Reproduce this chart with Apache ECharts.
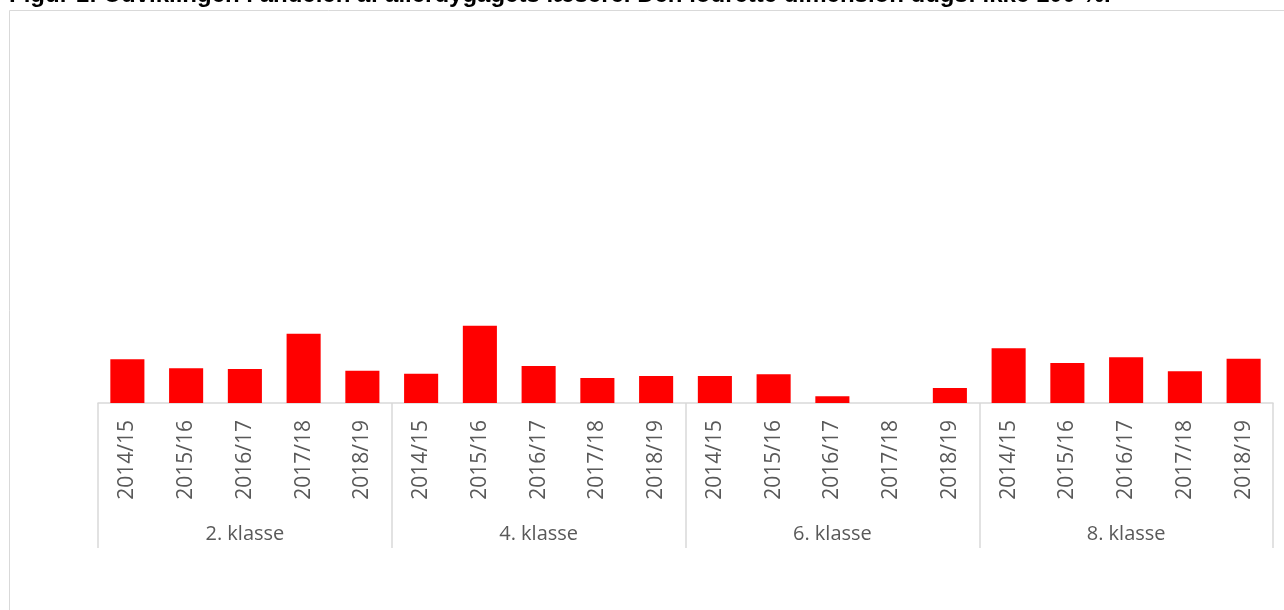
<!DOCTYPE html>
<html>
<head>
<meta charset="utf-8">
<script src="https://cdn.jsdelivr.net/npm/echarts@6/dist/echarts.min.js"></script>
<style>
  html, body { margin: 0; padding: 0; background: #fff; }
  #chart { width: 1284px; height: 610px; }
</style>
</head>
<body>
<div id="chart"></div>
<script>
var years = ['2014/15', '2015/16', '2016/17', '2017/18', '2018/19'];
var groups = ['2. klasse', '4. klasse', '6. klasse', '8. klasse'];
var klasse2 = [11.7, 9.3, 9.1, 18.5, 8.6];
var klasse4 = [7.8, 20.6, 9.9, 6.7, 7.2];
var klasse6 = [7.2, 7.7, 1.8, 0, 4.0];
var klasse8 = [14.6, 10.7, 12.2, 8.5, 11.8];
var title = 'Figur 1: Udviklingen i andelen af allerdygagets læsere. Den lodrette dimension dugs: ikke 100 %.';

var categories = [];
groups.forEach(function () {
  categories = categories.concat(years);
});
var values = [].concat(klasse2, klasse4, klasse6, klasse8);

var grey = '#d9d9d9';
var textGrey = '#595959';

var chart = echarts.init(document.getElementById('chart'));
var option = {
  animation: false,
  // rammen og den avskårne tittelen
  graphic: [{
    type: 'rect',
    shape: { x: 9.5, y: 10.5, width: 1300, height: 700 },
    style: { fill: 'none', stroke: grey, lineWidth: 1 }
  }, {
    type: 'text',
    x: 9,
    y: -5,
    style: {
      text: title,
      fontFamily: 'Liberation Sans',
      fontWeight: 'bold',
      fontSize: 24,
      fill: '#000',
      verticalAlign: 'middle'
    }
  }],
  grid: {
    left: 98,
    right: 11,
    top: 28,
    bottom: 207
  },
  xAxis: [{
    type: 'category',
    data: categories,
    axisLine: { show: true, lineStyle: { color: grey, width: 1.5 } },
    axisTick: { show: false },
    axisLabel: {
      rotate: 90,
      margin: 17,
      interval: 0,
      fontFamily: 'Open Sans',
      fontSize: 21,
      color: textGrey
    }
  }, {
    type: 'category',
    data: groups,
    position: 'bottom',
    axisLine: { show: false },
    axisTick: { show: true, length: 145, lineStyle: { color: grey, width: 1.5 } },
    axisLabel: {
      margin: 121,
      interval: 0,
      fontFamily: 'Open Sans',
      fontSize: 20,
      color: textGrey
    }
  }],
  yAxis: {
    type: 'value',
    min: 0,
    max: 100,
    show: false
  },
  series: [{
    type: 'bar',
    data: values,
    xAxisIndex: 0,
    barCategoryGap: '42%',
    itemStyle: { color: '#ff0000' }
  }]
};
chart.setOption(option);
</script>
</body>
</html>
